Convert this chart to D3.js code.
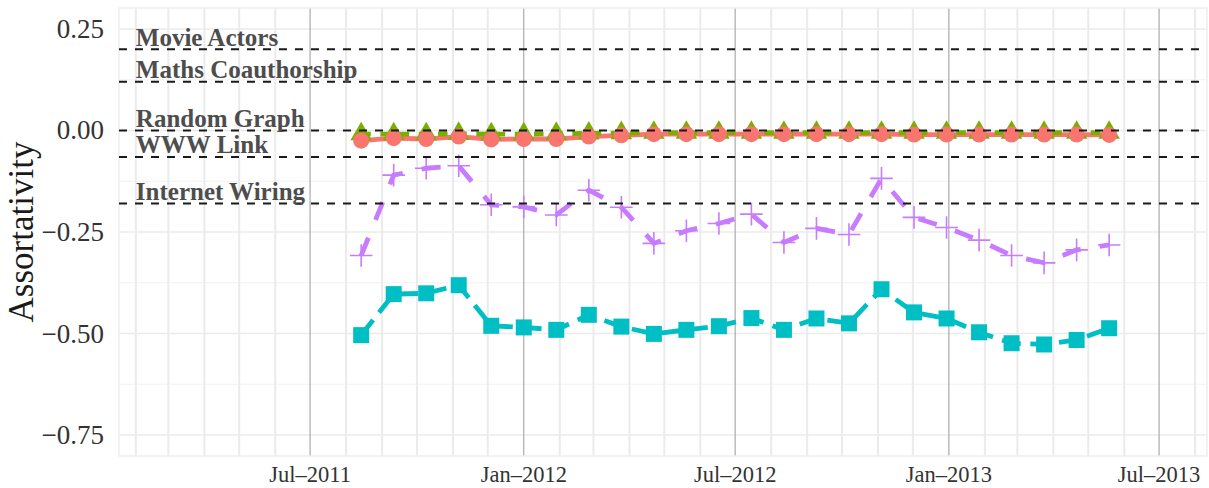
<!DOCTYPE html>
<html><head><meta charset="utf-8">
<script src="https://cdn.jsdelivr.net/npm/d3@7"></script>
<style>body{margin:0;background:#fff}svg{display:block}</style>
</head><body><svg id="c" width="1209" height="488"></svg>
<script>
// ---- data ----
const dates = ["2011-08-14","2011-09-11","2011-10-09","2011-11-06","2011-12-04","2012-01-01",
  "2012-01-29","2012-02-26","2012-03-25","2012-04-22","2012-05-20","2012-06-17","2012-07-15",
  "2012-08-12","2012-09-09","2012-10-07","2012-11-04","2012-12-02","2012-12-30","2013-01-27",
  "2013-02-24","2013-03-24","2013-04-21","2013-05-19"];
const seriesA = [-0.025,-0.019,-0.021,-0.015,-0.022,-0.021,-0.021,-0.015,-0.012,-0.009,-0.009,-0.009,
  -0.009,-0.009,-0.009,-0.009,-0.009,-0.010,-0.010,-0.010,-0.010,-0.010,-0.010,-0.011];
const seriesB = [-0.009,-0.009,-0.009,-0.008,-0.009,-0.009,-0.008,-0.007,-0.006,-0.005,-0.005,-0.005,
  -0.005,-0.005,-0.005,-0.005,-0.005,-0.005,-0.005,-0.005,-0.005,-0.005,-0.005,-0.005];
const seriesC = [-0.504,-0.403,-0.401,-0.381,-0.481,-0.485,-0.491,-0.454,-0.483,-0.501,-0.491,-0.482,
  -0.462,-0.491,-0.463,-0.475,-0.391,-0.448,-0.463,-0.497,-0.524,-0.527,-0.516,-0.487];
const seriesD = [-0.308,-0.110,-0.093,-0.087,-0.183,-0.188,-0.208,-0.147,-0.189,-0.278,-0.247,-0.229,
  -0.206,-0.276,-0.241,-0.256,-0.118,-0.214,-0.239,-0.270,-0.308,-0.326,-0.294,-0.282];
const refLabels = ["Movie Actors","Maths Coauthorship","Random Graph","WWW Link","Internet Wiring"];
const refValues = [0.2, 0.12, 0, -0.065, -0.18];
const refLabelDate = "2011-02-01";
const yTicks = [0.25, 0, -0.25, -0.5, -0.75];
const yTickLabels = ["0.25","0.00","\u22120.25","\u22120.50","\u22120.75"];
const yMinor = [0.125, -0.125, -0.375, -0.625];
const xTickDates = ["2011-07-01","2012-01-01","2012-07-01","2013-01-01","2013-07-01"];
const xTickLabels = ["Jul\u20132011","Jan\u20132012","Jul\u20132012","Jan\u20132013","Jul\u20132013"];
const yTitle = "Assortativity";

// ---- setup ----
const parse = d3.utcParse("%Y-%m-%d");
const svg = d3.select("#c");
const L = 119, R = 1207, T = 8, B = 456;
const x = d3.scaleUtc().domain([new Date(Date.UTC(2011,0,17,12)), new Date(Date.UTC(2013,7,11,6))]).range([L, R]);
const y = d3.scaleLinear().domain([-0.8017, 0.3017]).range([B, T]);
const font = "'Liberation Serif','Times New Roman',serif";

svg.append("rect").attr("width",1209).attr("height",488).attr("fill","#fff");

// grid
const g = svg.append("g");
yMinor.forEach(v => g.append("line").attr("x1",L).attr("x2",R).attr("y1",y(v)).attr("y2",y(v))
  .attr("stroke","#f2f2f2").attr("stroke-width",1.2));
yTicks.forEach(v => g.append("line").attr("x1",L).attr("x2",R).attr("y1",y(v)).attr("y2",y(v))
  .attr("stroke","#ebebeb").attr("stroke-width",1.6));
const majorSet = new Set(xTickDates);
const months = d3.utcMonth.range(x.domain()[0], x.domain()[1]);
months.forEach(m => {
  const key = d3.utcFormat("%Y-%m-%d")(m);
  if (majorSet.has(key)) return;
  g.append("line").attr("x1",x(m)).attr("x2",x(m)).attr("y1",T).attr("y2",B)
    .attr("stroke","#ebebeb").attr("stroke-width",2);
});
xTickDates.forEach(d => g.append("line").attr("x1",x(parse(d))).attr("x2",x(parse(d))).attr("y1",T).attr("y2",B)
  .attr("stroke","#9a9a9a").attr("stroke-width",1));
g.append("rect").attr("x",L).attr("y",T).attr("width",R-L).attr("height",B-T)
  .attr("fill","none").attr("stroke","#eeeeee").attr("stroke-width",1.5);

// series
const pts = arr => arr.map((v,i) => [x(parse(dates[i])), y(v)]);
const line = d3.line();
const W = 4.8;
const series = [
  {vals: seriesA, color:"#F8766D", dash:null},
  {vals: seriesB, color:"#7CAE00", dash:[2*W,2*W]},
  {vals: seriesC, color:"#00BFC4", dash:[4*W,2*W]},
  {vals: seriesD, color:"#C77CFF", dash:[4*W,4*W]}
];
series.forEach(s => {
  svg.append("path").attr("d", line(pts(s.vals))).attr("fill","none")
    .attr("stroke", s.color).attr("stroke-width", W)
    .attr("stroke-dasharray", s.dash ? s.dash.join(",") : null);
});
// points
const rT = 12.4;
pts(seriesB).forEach(([px,py]) => svg.append("path")
  .attr("d", `M${px},${py-rT}L${px+rT*0.866},${py+rT/2}L${px-rT*0.866},${py+rT/2}Z`).attr("fill","#7CAE00"));
pts(seriesA).forEach(([px,py]) => svg.append("circle").attr("cx",px).attr("cy",py).attr("r",8).attr("fill","#F8766D"));
pts(seriesC).forEach(([px,py]) => svg.append("rect").attr("x",px-8).attr("y",py-8).attr("width",16).attr("height",16).attr("fill","#00BFC4"));
pts(seriesD).forEach(([px,py]) => svg.append("path")
  .attr("d", `M${px-11.3},${py}H${px+11.3}M${px},${py-11.3}V${py+11.3}`).attr("stroke","#C77CFF").attr("stroke-width",1.6));

// reference lines
refValues.forEach(v => svg.append("line").attr("x1",L).attr("x2",R).attr("y1",y(v)).attr("y2",y(v))
  .attr("stroke","#1a1a1a").attr("stroke-width",2).attr("stroke-dasharray","8,8"));
refLabels.forEach((t,i) => svg.append("text").attr("x", x(parse(refLabelDate))).attr("y", y(refValues[i]) - 3.5)
  .attr("font-family",font).attr("font-weight","bold").attr("font-size",25).attr("fill","#4d4d4d").text(t));

// axes text
yTicks.forEach((v,i) => svg.append("text").attr("x",104).attr("y",y(v)+9).attr("text-anchor","end")
  .attr("font-family",font).attr("font-size",27).attr("fill","#333").text(yTickLabels[i]));
xTickDates.forEach((d,i) => svg.append("text").attr("x",x(parse(d))).attr("y",482).attr("text-anchor","middle")
  .attr("font-family",font).attr("font-size",22.5).attr("fill","#333").text(xTickLabels[i]));
svg.append("text").attr("transform",`translate(33,${(T+B)/2}) rotate(-90)`).attr("text-anchor","middle")
  .attr("font-family",font).attr("font-size",35).attr("fill","#1a1a1a").text(yTitle);
</script></body></html>
